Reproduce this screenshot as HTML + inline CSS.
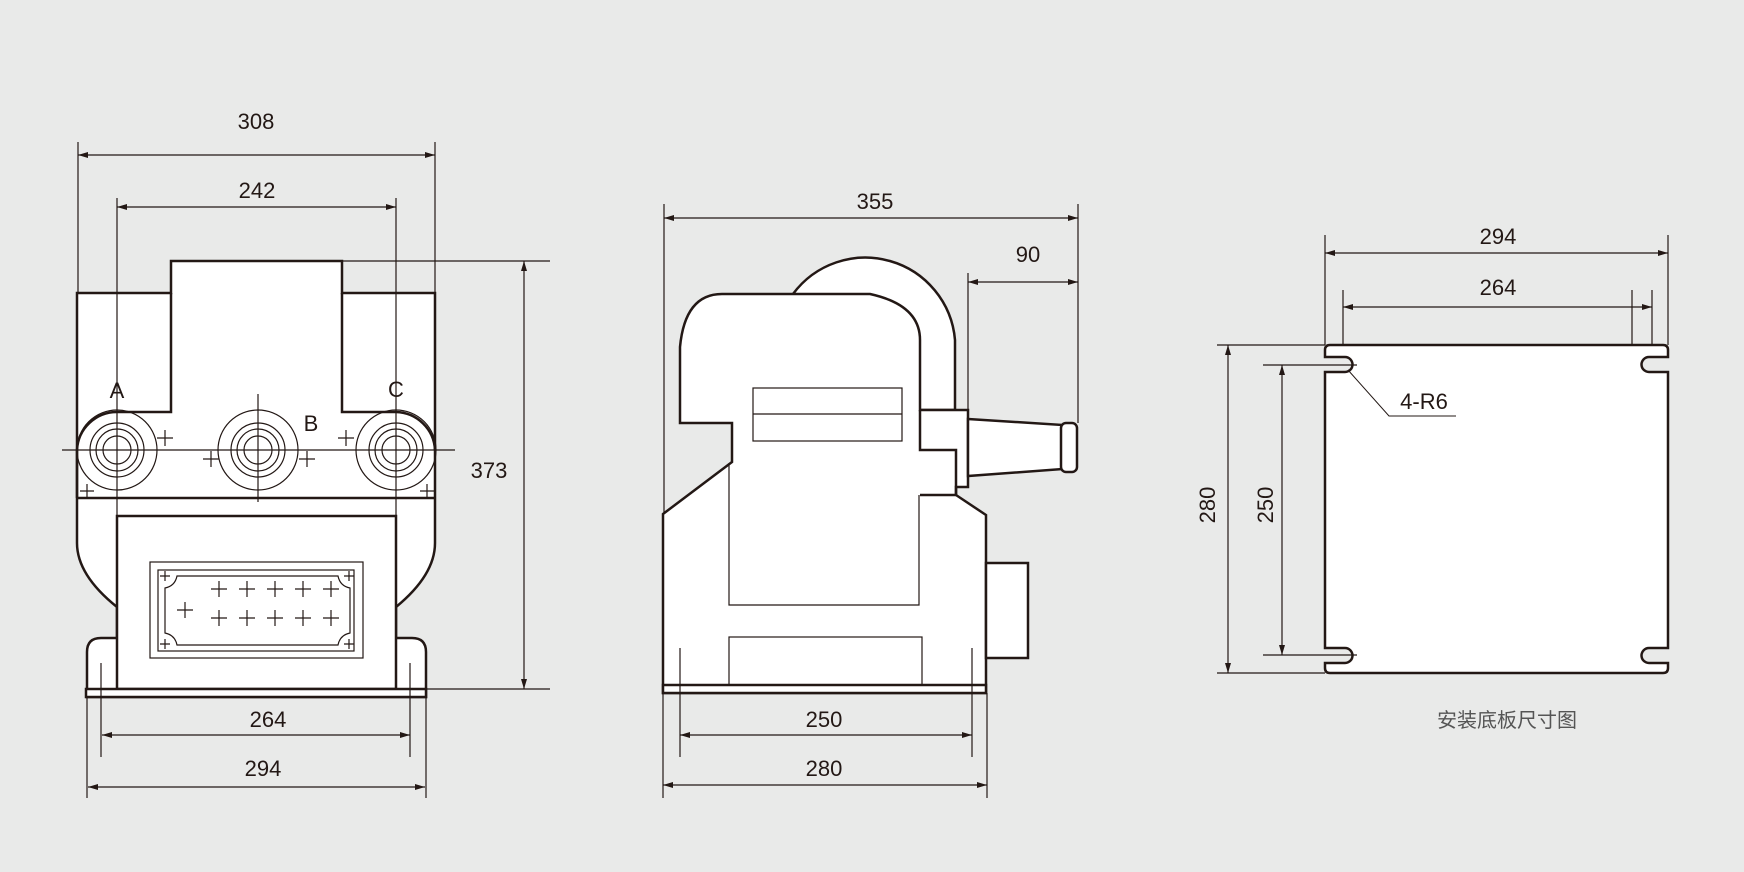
<!DOCTYPE html>
<html><head><meta charset="utf-8"><style>
html,body{margin:0;padding:0;background:#e9eae9}
svg{display:block}
text{font-family:"Liberation Sans","Noto Sans CJK SC",sans-serif;fill:#231815}
</style></head><body>
<svg width="1744" height="872" viewBox="0 0 1744 872" xmlns="http://www.w3.org/2000/svg">
<defs>
<marker id="a" viewBox="0 0 10 6" refX="10" refY="3" markerWidth="14" markerHeight="6" markerUnits="userSpaceOnUse" orient="auto-start-reverse"><path d="M0,0L10,3L0,6z" fill="#231815"/></marker>
</defs>
<rect width="1744" height="872" fill="#e9eae9"/>
<g stroke="#231815" fill="none" stroke-linecap="butt">

<!-- ============ LEFT VIEW ============ -->
<g fill="#fff" stroke-width="2.5">
<path d="M87,697 V652 Q87,638 101,638 H117 V607 Q77,575 77,543 V293 H171 V261 H342 V293 H435 V543 Q435,575 396,607 V638 H412 Q426,638 426,652 V697 Z"/>
</g>
<g stroke-width="2.5">
<path d="M77,498 V450 A40,40 0 0 1 117,412 H171 V293"/>
<path d="M342,293 V412 H396 A40,40 0 0 1 435,450"/>
<line x1="77" y1="498" x2="435" y2="498"/>
<rect x="117" y="516" width="279" height="173" fill="#fff"/>
<rect x="86" y="689" width="340" height="8" fill="#fff"/>
</g>
<g stroke-width="1.2">
<rect x="150" y="562" width="213" height="96"/>
<rect x="158" y="570" width="196" height="81"/>
<path d="M177,576 H338 Q340,586 350,588 V633 Q340,635 338,645 H177 Q175,635 165,633 V588 Q175,586 177,576 Z"/>
</g>
<g stroke-width="1.2">
<path d="M211,589h16m-8,-8v16 M239,589h16m-8,-8v16 M267,589h16m-8,-8v16 M295,589h16m-8,-8v16 M323,589h16m-8,-8v16"/>
<path d="M211,618h16m-8,-8v16 M239,618h16m-8,-8v16 M267,618h16m-8,-8v16 M295,618h16m-8,-8v16 M323,618h16m-8,-8v16"/>
<path d="M177,610h16m-8,-8v16"/>
<path d="M160,576h10m-5,-5v10 M344,576h10m-5,-5v10 M160,644h10m-5,-5v10 M344,644h10m-5,-5v10"/>
<circle cx="117" cy="450" r="40"/><circle cx="117" cy="450" r="27"/><circle cx="117" cy="450" r="21"/><circle cx="117" cy="450" r="14"/>
<circle cx="258" cy="450" r="40"/><circle cx="258" cy="450" r="27"/><circle cx="258" cy="450" r="21"/><circle cx="258" cy="450" r="14"/>
<circle cx="396" cy="450" r="40"/><circle cx="396" cy="450" r="27"/><circle cx="396" cy="450" r="21"/><circle cx="396" cy="450" r="14"/>
<path d="M157,438h16m-8,-8v16 M203,459h16m-8,-8v16 M299,459h16m-8,-8v16 M338,438h16m-8,-8v16 M80,491h14m-7,-7v14 M420,491h14m-7,-7v14"/>
<line x1="62" y1="450" x2="455" y2="450"/>
<line x1="117" y1="198" x2="117" y2="516"/>
<line x1="258" y1="394" x2="258" y2="502"/>
<line x1="396" y1="198" x2="396" y2="516"/>
<line x1="78" y1="142" x2="78" y2="293"/>
<line x1="435" y1="142" x2="435" y2="293"/>
<line x1="342" y1="261" x2="550" y2="261"/>
<line x1="426" y1="689" x2="550" y2="689"/>
<line x1="101" y1="663" x2="101" y2="757"/>
<line x1="410" y1="663" x2="410" y2="757"/>
<line x1="87" y1="697" x2="87" y2="798"/>
<line x1="426" y1="697" x2="426" y2="798"/>
<line x1="78" y1="155" x2="435" y2="155" marker-start="url(#a)" marker-end="url(#a)"/>
<line x1="117" y1="207" x2="396" y2="207" marker-start="url(#a)" marker-end="url(#a)"/>
<line x1="524" y1="261" x2="524" y2="689" marker-start="url(#a)" marker-end="url(#a)"/>
<line x1="102" y1="735" x2="410" y2="735" marker-start="url(#a)" marker-end="url(#a)"/>
<line x1="88" y1="787" x2="425" y2="787" marker-start="url(#a)" marker-end="url(#a)"/>
</g>
<g font-size="22" text-anchor="middle" stroke="none">
<text x="256" y="129">308</text>
<text x="257" y="198">242</text>
<text x="489" y="478">373</text>
<text x="268" y="727">264</text>
<text x="263" y="776">294</text>
<text x="117" y="398">A</text>
<text x="311" y="431">B</text>
<text x="396" y="397">C</text>
</g>

<!-- ============ SIDE VIEW ============ -->
<g stroke-width="2.5" fill="#fff">
<path d="M793,294 A90,90 0 0 1 955,340 V410 H920 Z" />
<path d="M663,693 V514 L732,462 V423 H680 V347 Q685,294 722,294 H870 Q920,305 920,340 V410 H968 V487 H956 V495 L986,515 V693 Z"/>
<rect x="986" y="563" width="42" height="95"/>
<path d="M968,419 L1063,425 V469 L968,476 Z"/>
<rect x="1061" y="423" width="16" height="49" rx="5"/>
<rect x="663" y="685" width="323" height="8"/>
</g>
<g stroke-width="2.5">
<path d="M920,410 V450 H956 V495 H920"/>
</g>
<g stroke-width="1.2">
<path d="M729,463 V605 H919 V495"/>
<rect x="729" y="637" width="193" height="48"/>
<rect x="753" y="388" width="149" height="53"/>
<line x1="753" y1="414" x2="902" y2="414"/>
<line x1="664" y1="204" x2="664" y2="514"/>
<line x1="1078" y1="204" x2="1078" y2="423"/>
<line x1="968" y1="273" x2="968" y2="410"/>
<line x1="680" y1="648" x2="680" y2="757"/>
<line x1="972" y1="648" x2="972" y2="757"/>
<line x1="663" y1="693" x2="663" y2="798"/>
<line x1="987" y1="693" x2="987" y2="798"/>
<line x1="664" y1="218" x2="1078" y2="218" marker-start="url(#a)" marker-end="url(#a)"/>
<line x1="968" y1="282" x2="1078" y2="282" marker-start="url(#a)" marker-end="url(#a)"/>
<line x1="680" y1="735" x2="972" y2="735" marker-start="url(#a)" marker-end="url(#a)"/>
<line x1="663" y1="785" x2="987" y2="785" marker-start="url(#a)" marker-end="url(#a)"/>
</g>
<g font-size="22" text-anchor="middle" stroke="none">
<text x="875" y="209">355</text>
<text x="1028" y="262">90</text>
<text x="824" y="727">250</text>
<text x="824" y="776">280</text>
</g>

<!-- ============ PLATE ============ -->
<path stroke-width="2.5" fill="#fff" d="M1330,345 H1663 Q1668,345 1668,350 V357 H1649 A7.5,7.5 0 0 0 1649,372 H1668 V648 H1649 A7.5,7.5 0 0 0 1649,663 H1668 V668 Q1668,673 1663,673 H1330 Q1325,673 1325,668 V663 H1345 A7.5,7.5 0 0 0 1345,648 H1325 V372 H1345 A7.5,7.5 0 0 0 1345,357 H1325 V350 Q1325,345 1330,345 Z"/>
<g stroke-width="1.2">
<line x1="1325" y1="235" x2="1325" y2="345"/>
<line x1="1668" y1="235" x2="1668" y2="345"/>
<line x1="1343" y1="290" x2="1343" y2="345"/>
<line x1="1632" y1="290" x2="1632" y2="345"/>
<line x1="1652" y1="290" x2="1652" y2="345"/>
<line x1="1217" y1="345" x2="1325" y2="345"/>
<line x1="1217" y1="673" x2="1325" y2="673"/>
<line x1="1263" y1="365" x2="1357" y2="365"/>
<line x1="1263" y1="655" x2="1357" y2="655"/>
<line x1="1325" y1="253" x2="1668" y2="253" marker-start="url(#a)" marker-end="url(#a)"/>
<line x1="1343" y1="307" x2="1652" y2="307" marker-start="url(#a)" marker-end="url(#a)"/>
<line x1="1228" y1="345" x2="1228" y2="673" marker-start="url(#a)" marker-end="url(#a)"/>
<line x1="1282" y1="365" x2="1282" y2="655" marker-start="url(#a)" marker-end="url(#a)"/>
<path d="M1348,370 L1389,416 H1456" stroke-width="1"/>
</g>
<g font-size="22" text-anchor="middle" stroke="none">
<text x="1498" y="244">294</text>
<text x="1498" y="295">264</text>
<text x="1424" y="409">4-R6</text>
<text transform="translate(1215,505) rotate(-90)">280</text>
<text transform="translate(1273,505) rotate(-90)">250</text>
<text x="1507" y="727" font-size="20" style="fill:#555">安装底板尺寸图</text>
</g>
</g>
</svg>
</body></html>
